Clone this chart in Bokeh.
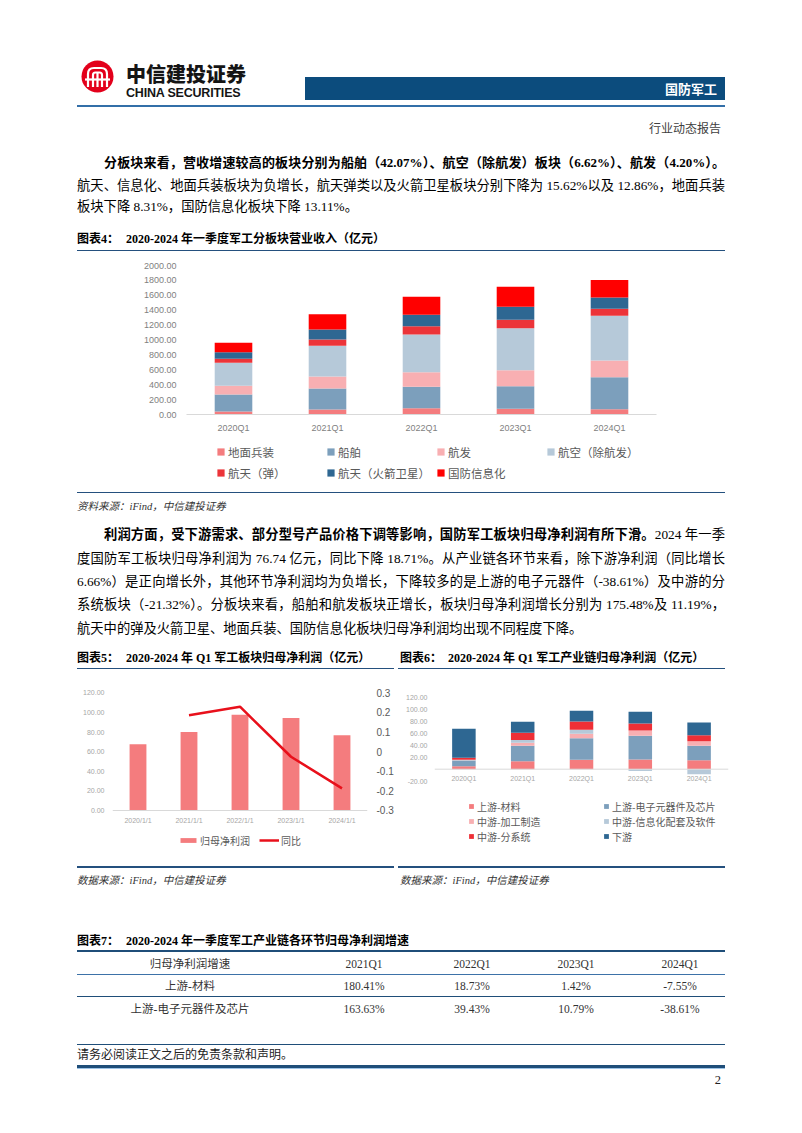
from bokeh.plotting import figure
from bokeh.models import (ColumnDataSource, Legend, LegendItem, Div, LinearAxis, Range1d,
                          NumeralTickFormatter, FixedTicker, Span)
from bokeh.layouts import column, row
from bokeh.embed import file_html
from bokeh.resources import INLINE

# ------------------------------------------------------------------ data
quarters = ["2020Q1", "2021Q1", "2022Q1", "2023Q1", "2024Q1"]

# Figure 4: revenue by sector (亿元)
sector_labels = ["地面兵装", "船舶", "航发", "航空（除航发）", "航天（弹）", "航天（火箭卫星）", "国防信息化"]
ground_equipment = [40, 67, 85, 76, 70]
shipbuilding = [228, 282, 286, 304, 430]
aero_engine = [117, 161, 197, 215, 224]
aviation = [308, 412, 506, 564, 601]
missiles = [54, 85, 112, 112, 95]
rockets_satellites = [90, 134, 152, 174, 152]
defense_info = [125, 206, 241, 269, 234]
revenue_ticks = [0, 200, 400, 600, 800, 1000, 1200, 1400, 1600, 1800, 2000]

# Figure 5: net profit attributable (亿元) and YoY
profit_dates = ["2020/1/1", "2021/1/1", "2022/1/1", "2023/1/1", "2024/1/1"]
net_profit = [67.6, 80.1, 97.6, 94.4, 76.74]
yoy_dates = ["2021/1/1", "2022/1/1", "2023/1/1", "2024/1/1"]
yoy = [0.186, 0.229, -0.026, -0.187]
profit_ticks = [0, 20, 40, 60, 80, 100, 120]
yoy_ticks = [-0.3, -0.2, -0.1, 0, 0.1, 0.2, 0.3]

# Figure 6: net profit by industry chain (亿元)
chain_labels = ["上游-材料", "上游-电子元器件及芯片", "中游-加工制造", "中游-信息化配套及软件", "中游-分系统", "下游"]
up_material = [4.7, 13.3, 15.8, 16.0, 14.8]
up_electronics = [9.8, 25.7, 35.9, 39.7, 24.4]
mid_processing = [0.6, 5.0, 7.5, 8.9, 7.2]
mid_info_software = [0.8, 4.5, 6.5, -3.0, -8.3]
mid_subsystem = [3.3, 12.2, 13.9, 11.7, 10.0]
downstream = [48.0, 18.5, 17.7, 19.4, 21.2]
chain_ticks = [-20, 20, 40, 60, 80, 100, 120]

# Table 7
table_header = ["归母净利润增速", "2021Q1", "2022Q1", "2023Q1", "2024Q1"]
table_material = ["上游-材料", "180.41%", "18.73%", "1.42%", "-7.55%"]
table_electronics = ["上游-电子元器件及芯片", "163.63%", "39.43%", "10.79%", "-38.61%"]

# ------------------------------------------------------------------ styles
C4 = ["#F47C7E", "#7C9FBC", "#F8AFB2", "#B6C9D9", "#EC3439", "#2E6792", "#FF0000"]
C6 = ["#F47C7E", "#7C9FBC", "#F8AFB2", "#B6C9D9", "#EE2F36", "#2E6792"]
SERIF = "'Liberation Serif','Noto Sans CJK SC',serif"
SANS = "'Noto Sans CJK SC',sans-serif"
TICK_FONT = "Liberation Sans"
LEG_FONT = "Noto Sans CJK SC"
LINE_BLUE = "#24507E"
W = 794


def txt(x, yc, s, btop, size=13.3, weight=400, color="#000", align="left", width=None,
        italic=False, family=SERIF, lh=None, extra=""):
    lh = lh or round(size * 1.45)
    top = yc + 1 - btop - lh / 2
    st = (f"position:absolute;top:{top:.1f}px;font-size:{size}px;line-height:{lh}px;"
          f"font-weight:{weight};color:{color};font-family:{family};white-space:nowrap;")
    if italic:
        st += "font-style:italic;"
    if align == "left":
        st += f"left:{x:.1f}px;"
    elif align == "right":
        st += f"right:{W - x:.1f}px;"
    elif align == "center":
        st += f"left:{x - width / 2:.1f}px;width:{width}px;text-align:center;"
    elif align == "justify":
        st += f"left:{x:.1f}px;width:{width}px;text-align:justify;text-align-last:justify;"
    return f'<div style="{st}{extra}">{s}</div>'


def hline(x1, x2, y, btop, h=1.5, color=LINE_BLUE):
    return (f'<div style="position:absolute;left:{x1:.1f}px;top:{y - btop:.1f}px;'
            f'width:{x2 - x1:.1f}px;height:{h}px;background:{color};"></div>')


def block(html, h):
    inner = (f'<div lang="zh-CN" style="position:relative;width:{W}px;height:{h}px;'
             f'overflow:hidden;background:#fff;">{html}</div>')
    return Div(text=inner, width=W, height=h, margin=0)


def b(s):
    return f'<b style="font-weight:700">{s}</b>'


def style_axis(ax, size, color="#A6A6A6"):
    ax.major_tick_line_color = None
    ax.minor_tick_line_color = None
    ax.major_tick_out = 0
    ax.major_tick_in = 0
    ax.major_label_text_font = TICK_FONT
    ax.major_label_text_font_size = size
    ax.major_label_text_color = color
    ax.axis_line_color = None


# ------------------------------------------------------------------ block A (page y 0..251)
TA = 0
logo = ('<svg style="position:absolute;left:81px;top:60px" width="33" height="33" viewBox="0 0 33 33">'
        '<circle cx="16.5" cy="16.5" r="16" fill="#E3001B"/>'
        '<g fill="none" stroke="#fff" stroke-width="2.2">'
        '<path d="M7 27 V14 Q7 8 13 8 H20 Q26 8 26 14 V27"/>'
        '<path d="M12 27 V15 Q12 12.5 14.5 12.5 H18.5 Q21 12.5 21 15 V27"/>'
        '<path d="M16.5 12.5 V27"/><path d="M4 19.5 H29"/></g></svg>')
a = [logo,
     txt(126, 73, "中信建投证券", TA, size=20, weight=900, color="#151515", family=SANS, lh=24),
     txt(126, 92, "CHINA SECURITIES", TA, size=12.5, weight=700, color="#151515",
         family="'Liberation Sans',sans-serif", lh=14, extra="letter-spacing:-0.2px;"),
     f'<div style="position:absolute;left:305px;top:77px;width:420px;height:23px;background:#0C4C7D;"></div>',
     txt(717, 88, "国防军工", TA, size=13, weight=700, color="#fff", align="right", family=SANS, lh=18),
     hline(77, 725, 105, TA, h=2, color="#336FA8"),
     txt(721, 128, "行业动态报告", TA, size=12, color="#404040", align="right"),
     txt(104, 161, b("分板块来看，营收增速较高的板块分别为船舶（42.07%）、航空（除航发）板块（6.62%）、航发（4.20%）。"),
         TA, size=13, align="justify", width=621),
     txt(77, 184, "航天、信息化、地面兵装板块为负增长，航天弹类以及火箭卫星板块分别下降为 15.62%以及 12.86%，地面兵装",
         TA, align="justify", width=648),
     txt(77, 205, "板块下降 8.31%，国防信息化板块下降 13.11%。", TA),
     txt(77, 238, b("图表4："), TA, size=12),
     txt(126, 238, b("2020-2024 年一季度军工分板块营业收入（亿元）"), TA, size=12),
     hline(77, 725, 249.5, TA, h=1.5)]
divA = block("".join(a), 251)

# ------------------------------------------------------------------ Figure 4 (page y 251..491)
src4 = ColumnDataSource(dict(q=quarters, ground=ground_equipment, ship=shipbuilding,
                             engine=aero_engine, aviation=aviation, missile=missiles,
                             rocket=rockets_satellites, info=defense_info))
keys4 = ["ground", "ship", "engine", "aviation", "missile", "rocket", "info"]
p4 = figure(x_range=quarters, y_range=Range1d(0, 2000), width=W, height=240,
            min_border_left=186, min_border_right=138, min_border_top=14, min_border_bottom=77,
            toolbar_location=None, output_backend="svg", outline_line_color=None)
r4 = p4.vbar_stack(keys4, x="q", width=0.4, fill_color=C4, line_color=None, source=src4)
p4.xgrid.grid_line_color = None
p4.ygrid.grid_line_color = None
p4.yaxis.ticker = FixedTicker(ticks=revenue_ticks)
p4.yaxis.formatter = NumeralTickFormatter(format="0.00")
style_axis(p4.xaxis[0], "9px", "#7F7F7F")
style_axis(p4.yaxis[0], "9px", "#7F7F7F")
p4.yaxis.major_label_standoff = 10
p4.xaxis.axis_line_color = "#D9D9D9"
p4.xaxis.major_label_standoff = 8
p4.add_layout(Legend(items=[LegendItem(label=lab, renderers=[r]) for lab, r in zip(sector_labels, r4)],
                     location=(30, 1), orientation="horizontal", ncols=4, padding=0, margin=0,
                     spacing=1, glyph_width=9, glyph_height=9, label_standoff=3, label_height=20,
                     label_width=97, label_text_font=LEG_FONT, label_text_font_size="11.5px",
                     label_text_color="#595959", border_line_color=None, background_fill_alpha=0),
              "below")

# ------------------------------------------------------------------ block C (page y 491..669)
TC = 491
c = [hline(77, 725, 491.5, TC, h=1.5),
     txt(77, 505, "资料来源：iFind，中信建投证券", TC, size=10.5, italic=True, color="#333"),
     txt(104, 533, b("利润方面，受下游需求、部分型号产品价格下调等影响，国防军工板块归母净利润有所下滑。") + "2024 年一季",
         TC, align="justify", width=621),
     txt(77, 557, "度国防军工板块归母净利润为 76.74 亿元，同比下降 18.71%。从产业链各环节来看，除下游净利润（同比增长",
         TC, align="justify", width=648),
     txt(77, 580, "6.66%）是正向增长外，其他环节净利润均为负增长，下降较多的是上游的电子元器件（-38.61%）及中游的分",
         TC, align="justify", width=648),
     txt(77, 603, "系统板块（-21.32%）。分板块来看，船舶和航发板块正增长，板块归母净利润增长分别为 175.48%及 11.19%，",
         TC, align="justify", width=648),
     txt(77, 627, "航天中的弹及火箭卫星、地面兵装、国防信息化板块归母净利润均出现不同程度下降。", TC),
     txt(77, 657, b("图表5："), TC, size=12),
     txt(126, 657, b("2020-2024 年 Q1 军工板块归母净利润（亿元）"), TC, size=12),
     txt(400, 657, b("图表6："), TC, size=12),
     txt(448, 657, b("2020-2024 年 Q1 军工产业链归母净利润（亿元）"), TC, size=12),
     hline(77, 394, 667.5, TC, h=1.5),
     hline(398, 725, 667.5, TC, h=1.5)]
divC = block("".join(c), 178)

# ------------------------------------------------------------------ Figure 5 (page x 0..396, y 669..866)
# frame spans page y 692..850 (room for the legend inside it); 0 sits at y 810
src5 = ColumnDataSource(dict(d=profit_dates, v=net_profit))
src5b = ColumnDataSource(dict(d=yoy_dates, v=yoy))
p5 = figure(x_range=profit_dates, y_range=Range1d(-40.8, 120.3), width=396, height=197,
            min_border_left=112, min_border_right=29, min_border_top=23, min_border_bottom=16,
            toolbar_location=None, output_backend="svg", outline_line_color=None)
p5.extra_y_ranges = {"yoy": Range1d(-0.504, 0.3015)}
rb = p5.vbar(x="d", top="v", width=0.33, fill_color="#F47C7E", line_color=None, source=src5)
rl = p5.line(x="d", y="v", y_range_name="yoy", line_color="#E8101B", line_width=2.5, source=src5b)
p5.add_layout(LinearAxis(y_range_name="yoy", ticker=FixedTicker(ticks=yoy_ticks),
                         formatter=NumeralTickFormatter(format="0.[0]")), "right")
p5.add_layout(Span(location=0, dimension="width", line_color="#D9D9D9", line_width=1))
p5.xgrid.grid_line_color = None
p5.ygrid.grid_line_color = None
p5.yaxis[0].ticker = FixedTicker(ticks=profit_ticks)
p5.yaxis[0].formatter = NumeralTickFormatter(format="0.00")
for ax in p5.xaxis + p5.yaxis:
    style_axis(ax, "7px")
p5.yaxis[0].major_label_standoff = 8
p5.yaxis[1].major_label_text_font_size = "10px"
p5.yaxis[1].major_label_text_color = "#595959"
p5.yaxis[1].major_label_standoff = 9
p5.xaxis.major_label_standoff = -34
p5.add_layout(Legend(items=[LegendItem(label="归母净利润", renderers=[rb]),
                            LegendItem(label="同比", renderers=[rl])],
                     location=(66, 0), orientation="horizontal", padding=0, margin=0, spacing=9,
                     glyph_width=20, glyph_height=6, label_standoff=2, label_height=20,
                     label_text_font=LEG_FONT, label_text_font_size="10px",
                     label_text_color="#595959", border_line_color=None, background_fill_alpha=0))

# ------------------------------------------------------------------ Figure 6 (page x 396..794)
# same frame rows as figure 5 (692..850); -20 at y 780.7, 120 at y 696.7
series6 = [up_material, up_electronics, mid_processing, mid_info_software, mid_subsystem, downstream]
keys6 = ["material", "electronics", "processing", "infosw", "subsystem", "downstream"]
d6 = dict(q=quarters)
for k, s in zip(keys6, series6):
    d6["pos_" + k] = [max(v, 0) for v in s]
    d6["neg_" + k] = [min(v, 0) for v in s]
src6 = ColumnDataSource(d6)
p6 = figure(x_range=quarters, y_range=Range1d(-135.5, 127.8), width=398, height=197,
            min_border_left=38, min_border_right=66, min_border_top=23, min_border_bottom=16,
            toolbar_location=None, output_backend="svg", outline_line_color=None)
r6 = p6.vbar_stack(["pos_" + k for k in keys6], x="q", width=0.4, fill_color=C6,
                   line_color=None, source=src6)
p6.vbar_stack(["neg_" + k for k in keys6], x="q", width=0.4, fill_color=C6,
              line_color=None, source=src6)
p6.add_layout(Span(location=0, dimension="width", line_color="#D9D9D9", line_width=1))
p6.xgrid.grid_line_color = None
p6.ygrid.grid_line_color = None
p6.yaxis.ticker = FixedTicker(ticks=chain_ticks)
p6.yaxis.formatter = NumeralTickFormatter(format="0.00")
style_axis(p6.xaxis[0], "7px")
style_axis(p6.yaxis[0], "7px")
p6.yaxis.major_label_standoff = 7
p6.xaxis.major_label_standoff = -76
p6.add_layout(Legend(items=[LegendItem(label=lab, renderers=[r]) for lab, r in zip(chain_labels, r6)],
                     location=(34, 6.5), orientation="horizontal", ncols=2, padding=0, margin=0,
                     spacing=0, glyph_width=6, glyph_height=6, label_standoff=3, label_height=15,
                     label_width=126, label_text_font=LEG_FONT, label_text_font_size="10px",
                     label_text_color="#595959", border_line_color=None, background_fill_alpha=0))

# ------------------------------------------------------------------ block E (page y 866..1106)
TE = 866
col_x = [190, 364, 472, 576, 680]
e = [hline(77, 394, 866, TE, h=1.5), hline(398, 725, 866, TE, h=1.5),
     txt(77, 879, "数据来源：iFind，中信建投证券", TE, size=10.5, italic=True, color="#333"),
     txt(400, 879, "数据来源：iFind，中信建投证券", TE, size=10.5, italic=True, color="#333"),
     txt(77, 940, b("图表7："), TE, size=12),
     txt(126, 940, b("2020-2024 年一季度军工产业链各环节归母净利润增速"), TE, size=12),
     hline(77, 725, 950, TE, h=2, color="#1F4E79"),
     hline(77, 725, 973.5, TE, h=1, color="#3D72A8"),
     hline(77, 725, 995.5, TE, h=1.5, color="#1F4E79")]
for cx, s in zip(col_x, table_header):
    e.append(txt(cx, 963, s, TE, size=11.5, color="#333", align="center", width=160))
for cx, s in zip(col_x, table_material):
    e.append(txt(cx, 985, s, TE, size=11.5, color="#333", align="center", width=160))
for cx, s in zip(col_x, table_electronics):
    e.append(txt(cx, 1008, s, TE, size=11.5, color="#333", align="center", width=160))
e += [hline(77, 725, 1043.5, TE, h=1, color="#1F4E79"),
      txt(77, 1054, "请务必阅读正文之后的免责条款和声明。", TE, size=12, color="#222"),
      hline(77, 725, 1064.5, TE, h=3, color="#1F4E79"),
      hline(77, 725, 1067.5, TE, h=1, color="#9DC3E6"),
      txt(721, 1079, "2", TE, size=12.5, color="#222", align="right")]
divE = block("".join(e), 240)

page = column(divA, p4, divC, row(p5, p6, spacing=0), divE, spacing=0)
open("out.html", "w").write(file_html(page, INLINE, title="国防军工"))
